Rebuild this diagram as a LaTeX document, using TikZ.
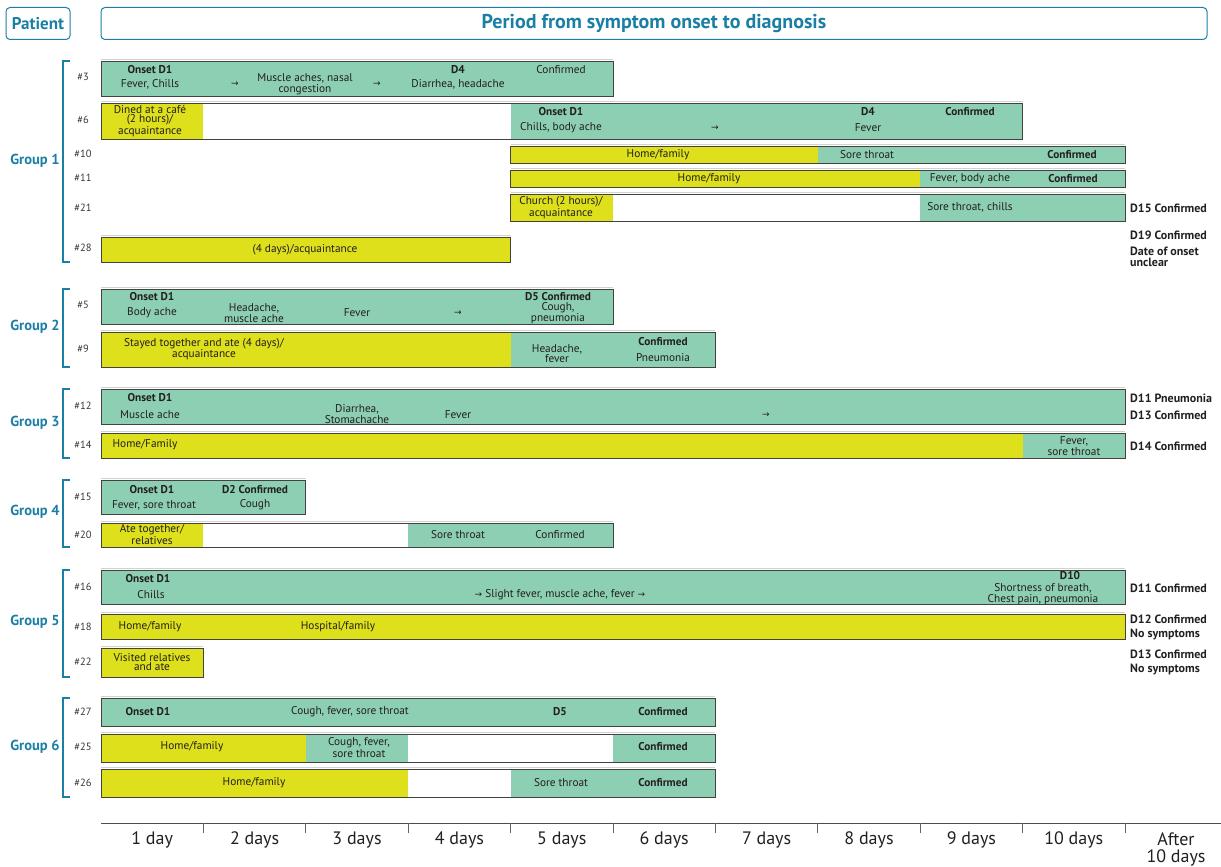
\documentclass[tikz,border=0pt]{standalone}
\usepackage{fontspec}
\setmainfont{PT Sans}
\newfontfamily\arrfont{DejaVu Sans}
\newcommand\ra{{\arrfont\fontsize{9}{9}\selectfont →}}
\definecolor{teal}{RGB}{141,207,178}
\definecolor{yel}{RGB}{221,224,26}
\definecolor{blu}{RGB}{27,127,164}
\definecolor{ink}{RGB}{35,31,32}
\tikzset{
  boxline/.style={draw=ink!85,line width=0.9pt},
  t/.style={inner sep=0pt,text=ink,font=\fontsize{11.3}{9}\selectfont,align=center},
  tb/.style={t,font=\fontsize{11.3}{9}\selectfont\bfseries},
  rl/.style={inner sep=0pt,text=ink!90,font=\fontsize{10.5}{10}\selectfont},
  side/.style={inner sep=0pt,text=ink,font=\fontsize{12}{11}\selectfont\bfseries,align=left,anchor=west},
  grp/.style={inner sep=0pt,text=blu,font=\fontsize{14.5}{14}\selectfont\bfseries},
  brk/.style={draw=blu,line width=1.1pt},
  ax/.style={inner sep=0pt,text=ink,font=\fontsize{18}{17}\selectfont,align=center},
}
\newcommand\segm[5]{\fill[#5] (#1,#3) rectangle (#2,#4);}
\newcommand\outl[4]{\draw[gray!35,line width=0.9pt] (#1,#3-1.6) -- (#2,#3-1.6); \draw[boxline] (#1,#3) rectangle (#2,#4);}
\begin{document}
\begin{tikzpicture}[x=1pt,y=-1pt]
\useasboundingbox (0,0) rectangle (1221,867);
% header
\node[draw=blu,line width=1pt,rounded corners=4pt,minimum width=64pt,minimum height=32pt,inner sep=0pt,text=blu,font=\fontsize{17}{17}\selectfont\bfseries] (patient) at (38,23.5) {Patient};
\node[draw=blu,line width=1pt,rounded corners=4pt,minimum width=1106pt,minimum height=32pt,inner sep=0pt,text=blu,font=\fontsize{20}{20}\selectfont\bfseries] (title) at (654,23.5) {Period from symptom onset to diagnosis};
% ===== Group 1 =====
\draw[brk] (70,61) -- (63,61) -- (63,262) -- (70,262);
\node[grp] (g1) at (35,161) {Group 1};
% #3
\segm{101}{613}{61}{96}{teal}\outl{101}{613}{61}{96}
\node[rl] (r3) at (83,77) {\#3};
\node[tb] (a1) at (150,70) {Onset D1};
\node[t] (a2) at (150,84) {Fever, Chills};
\node[t] (a3) at (235,84) {\ra};
\node[t] (a4) at (305,84) {Muscle aches, nasal\\congestion};
\node[t] (a5) at (377,84) {\ra};
\node[tb] (a6) at (458,70) {D4};
\node[t] (a7) at (458,84) {Diarrhea, headache};
\node[t] (a8) at (561,70) {Confirmed};
% #6
\segm{101}{203.4}{103}{139}{yel}\segm{510.6}{1022.6}{103}{139}{teal}\outl{101}{1022.6}{103}{139}
\node[rl] (r6) at (83,120) {\#6};
\node[t] (b1) at (150,121) {Dined at a café\\(2 hours)/\\acquaintance};
\node[tb] (b2) at (561,112) {Onset D1};
\node[t] (b3) at (561,128) {Chills, body ache};
\node[t] (b4) at (715,128) {\ra};
\node[tb] (b5) at (868,112) {D4};
\node[t] (b6) at (868,128) {Fever};
\node[tb] (b7) at (970,112) {Confirmed};
% #10
\segm{510.6}{817.8}{146}{163}{yel}\segm{817.8}{1125}{146}{163}{teal}\outl{510.6}{1125}{146}{163}
\node[rl] (r10) at (83,154) {\#10};
\node[t] (c1) at (658,154.5) {Home/family};
\node[t] (c2) at (867,154.5) {Sore throat};
\node[tb] (c3) at (1072,154.5) {Confirmed};
% #11
\segm{510.6}{920.2}{170}{187}{yel}\segm{920.2}{1125}{170}{187}{teal}\outl{510.6}{1125}{170}{187}
\node[rl] (r11) at (83,178) {\#11};
\node[t] (d1) at (709,178.5) {Home/family};
\node[t] (d2) at (970,178.5) {Fever, body ache};
\node[tb] (d3) at (1073,178.5) {Confirmed};
% #21
\segm{510.6}{613}{194}{221}{yel}\segm{920.2}{1125}{194}{221}{teal}\outl{510.6}{1125}{194}{221}
\node[rl] (r21) at (83,208) {\#21};
\node[t] (e1) at (561,207.5) {Church (2 hours)/\\acquaintance};
\node[t] (e2) at (970,207) {Sore throat, chills};
\node[side] (e3) at (1130,208) {D15 Confirmed};
% #28
\segm{101}{510.6}{237}{262}{yel}\outl{101}{510.6}{237}{262}
\node[rl] (r28) at (83,248) {\#28};
\node[t] (f1) at (305,249.5) {(4 days)/acquaintance};
\node[side] (f2) at (1130,235) {D19 Confirmed};
\node[side,font=\fontsize{12}{10.5}\selectfont\bfseries] (f3) at (1130,257) {Date of onset\\unclear};
% ===== Group 2 =====
\draw[brk] (70,289) -- (63,289) -- (63,367) -- (70,367);
\node[grp] (g2) at (35,327) {Group 2};
% #5
\segm{101}{613}{289}{324}{teal}\outl{101}{613}{289}{324}
\node[rl] (r5) at (83,305) {\#5};
\node[tb] (h1) at (152,297) {Onset D1};
\node[t] (h2) at (152,313) {Body ache};
\node[t] (h3) at (254,313) {Headache,\\muscle ache};
\node[t] (h4) at (357,313) {Fever};
\node[t] (h5) at (458,313) {\ra};
\node[tb] (h6) at (558,297) {D5 Confirmed};
\node[t] (h7) at (558,313) {Cough,\\pneumonia};
% #9
\segm{101}{510.6}{332}{367}{yel}\segm{510.6}{715.4}{332}{367}{teal}\outl{101}{715.4}{332}{367}
\node[rl] (r9) at (83,349) {\#9};
\node[t] (i1) at (204,349) {Stayed together and ate (4 days)/\\acquaintance};
\node[t] (i2) at (557,353.5) {Headache,\\fever};
\node[tb] (i3) at (663,342) {Confirmed};
\node[t] (i4) at (663,358) {Pneumonia};
% ===== Group 3 =====
\draw[brk] (70,389) -- (63,389) -- (63,458) -- (70,458);
\node[grp] (g3) at (35,423) {Group 3};
% #12
\segm{101}{1125}{389}{424}{teal}\outl{101}{1125}{389}{424}
\node[rl] (r12) at (83,406) {\#12};
\node[tb] (j1) at (150,398) {Onset D1};
\node[t] (j2) at (150,415) {Muscle ache};
\node[t] (j3) at (357,414) {Diarrhea,\\Stomachache};
\node[t] (j4) at (458,415) {Fever};
\node[t] (j5) at (766,415) {\ra};
\node[side] (j6) at (1130,398) {D11 Pneumonia};
\node[side] (j7) at (1130,415) {D13 Confirmed};
% #14
\segm{101}{1022.6}{433}{458}{yel}\segm{1022.6}{1125}{433}{458}{teal}\outl{101}{1125}{433}{458}
\node[rl] (r14) at (83,445) {\#14};
\node[t] (k1) at (145,445) {Home/Family};
\node[t] (k2) at (1074,446) {Fever,\\sore throat};
\node[side] (k3) at (1130,446) {D14 Confirmed};
% ===== Group 4 =====
\draw[brk] (70,480) -- (63,480) -- (63,547) -- (70,547);
\node[grp] (g4) at (35,512) {Group 4};
% #15
\segm{101}{305.8}{480}{514}{teal}\outl{101}{305.8}{480}{514}
\node[rl] (r15) at (83,497) {\#15};
\node[tb] (l1) at (152,490) {Onset D1};
\node[t] (l2) at (154,505) {Fever, sore throat};
\node[tb] (l3) at (255,490) {D2 Confirmed};
\node[t] (l4) at (255,505) {Cough};
% #20
\segm{101}{203.4}{523}{547}{yel}\segm{408.2}{613}{523}{547}{teal}\outl{101}{613}{523}{547}
\node[rl] (r20) at (83,535) {\#20};
\node[t,font=\fontsize{11.3}{12.5}\selectfont] (m1) at (152,534.5) {Ate together/\\relatives};
\node[t] (m2) at (458,535) {Sore throat};
\node[t] (m3) at (560,535) {Confirmed};
% ===== Group 5 =====
\draw[brk] (70,570) -- (63,570) -- (63,677) -- (70,677);
\node[grp] (g5) at (35,622) {Group 5};
% #16
\segm{101}{1125}{570}{604}{teal}\outl{101}{1125}{570}{604}
\node[rl] (r16) at (83,587) {\#16};
\node[tb] (n1) at (148,579) {Onset D1};
\node[t] (n2) at (151,595) {Chills};
\node[t] (n3) at (560,595) {\ra{} Slight fever, muscle ache, fever \ra};
\node[tb] (n4) at (1070,576) {D10};
\node[t] (n5) at (1043,594) {Shortness of breath,\\Chest pain, pneumonia};
\node[side] (n6) at (1130,588) {D11 Confirmed};
% #18
\segm{101}{1125}{614}{639}{yel}\outl{101}{1125}{614}{639}
\node[rl] (r18) at (83,627) {\#18};
\node[t] (o1) at (150,627) {Home/family};
\node[t] (o2) at (338,627) {Hospital/family};
\node[side,font=\fontsize{12}{14}\selectfont\bfseries] (o3) at (1130,627) {D12 Confirmed\\No symptoms};
% #22
\segm{101}{203.4}{648}{677}{yel}\outl{101}{203.4}{648}{677}
\node[rl] (r22) at (83,662) {\#22};
\node[t] (p1) at (152,662.5) {Visited relatives\\and ate};
\node[side,font=\fontsize{12}{14}\selectfont\bfseries] (p2) at (1130,662) {D13 Confirmed\\No symptoms};
% ===== Group 6 =====
\draw[brk] (70,698) -- (63,698) -- (63,797) -- (70,797);
\node[grp] (g6) at (35,747) {Group 6};
% #27
\segm{101}{715.4}{698}{726}{teal}\outl{101}{715.4}{698}{726}
\node[rl] (r27) at (83,712) {\#27};
\node[tb] (q1) at (148,712) {Onset D1};
\node[t] (q2) at (350,712) {Cough, fever, sore throat};
\node[tb] (q3) at (560,712) {D5};
\node[tb] (q4) at (663,712) {Confirmed};
% #25
\segm{101}{305.8}{734}{762}{yel}\segm{305.8}{408.2}{734}{762}{teal}\segm{613}{715.4}{734}{762}{teal}\outl{101}{715.4}{734}{762}
\node[rl] (r25) at (83,747) {\#25};
\node[t] (s1) at (192,747) {Home/family};
\node[t] (s2) at (359,747.5) {Cough, fever,\\sore throat};
\node[tb] (s3) at (663,747) {Confirmed};
% #26
\segm{101}{408.2}{769}{797}{yel}\segm{510.6}{715.4}{769}{797}{teal}\outl{101}{715.4}{769}{797}
\node[rl] (r26) at (83,783) {\#26};
\node[t] (u1) at (254,783) {Home/family};
\node[t] (u2) at (561,783) {Sore throat};
\node[tb] (u3) at (663,783) {Confirmed};
% ===== axis =====
\draw[ink!80,line width=0.9pt] (101,823) -- (1221,823);
\foreach \i in {1,...,10} {\draw[ink!70,line width=0.9pt] ({101+102.4*\i},823) -- ({101+102.4*\i},833);}
\node[ax] (x1) at (152.2,840) {1 day};
\node[ax] (x2) at (254.6,840) {2 days};
\node[ax] (x3) at (357,840) {3 days};
\node[ax] (x4) at (459.4,840) {4 days};
\node[ax] (x5) at (561.8,840) {5 days};
\node[ax] (x6) at (664.2,840) {6 days};
\node[ax] (x7) at (766.6,840) {7 days};
\node[ax] (x8) at (869,840) {8 days};
\node[ax] (x9) at (971.4,840) {9 days};
\node[ax] (x10) at (1073.8,840) {10 days};
\node[ax] (x11) at (1176,849) {After\\10 days};
\end{tikzpicture}
\end{document}
